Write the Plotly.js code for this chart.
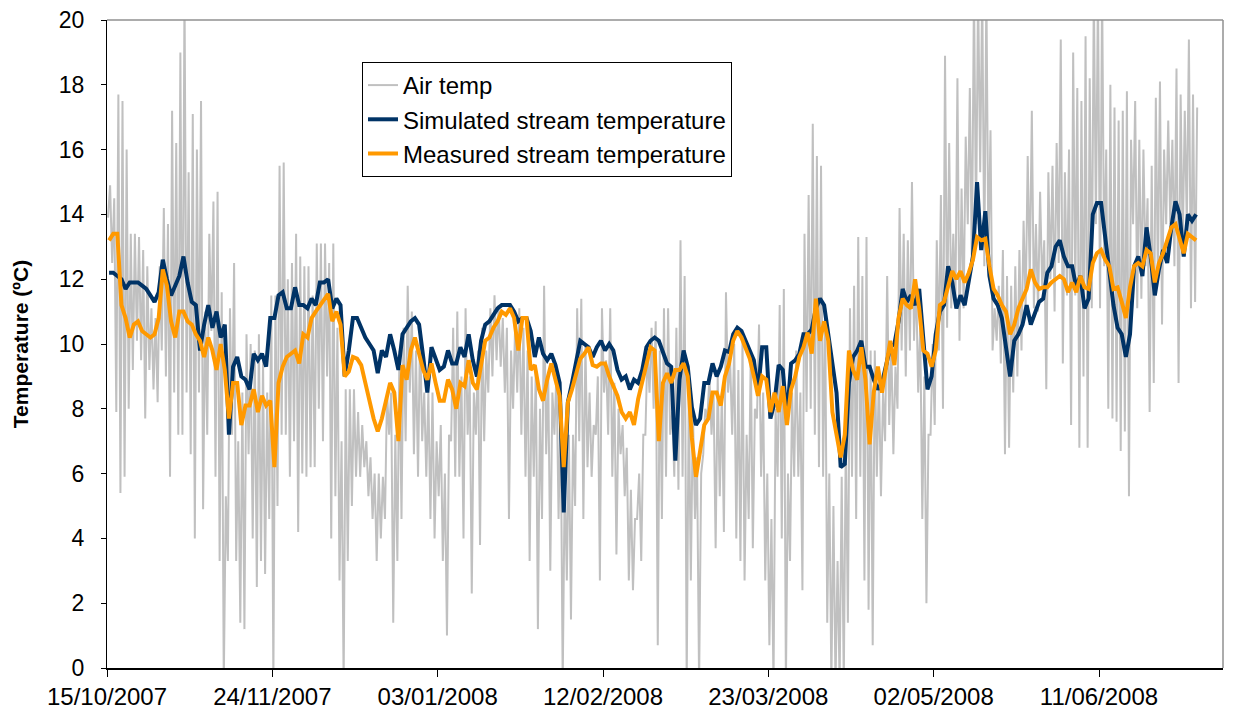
<!DOCTYPE html>
<html><head><meta charset="utf-8">
<script src="https://cdn.plot.ly/plotly-3.0.1.min.js"></script>
<style>html,body{margin:0;padding:0;background:#fff;}#chart{width:1242px;height:718px;}</style>
</head><body><div id="chart"></div>
<script>
// Air temperature: two readings per day (early-morning low, evening high), from 15/10/2007 06:00
const airTemp = [
13.9,14.9, 12.5,14.5, 7.9,17.7, 5.4,17.5, 5.9,16.0, 8.0,13.4, 9.2,13.4, 10.1,13.3, 9.5,12.9, 7.7,12.4,
9.2,11.1, 8.6,10.8, 8.2,12.4, 9.8,14.2, 9.0,13.7, 5.9,17.2, 8.5,16.2, 7.2,19.0, 7.2,21, 8.5,15.3,
6.6,17.1, 4.0,16.0, 8.5,17.5, 4.9,11.0, 7.2,13.4, 10.4,14.4, 5.9,14.7, 3.3,11.6, -0.5,5.3, 3.3,11.1,
7.2,12.5, 3.3,7.0, 1.4,8.5, 1.2,10.3, 6.6,10.0, 4.0,9.8, 2.5,10.3, 3.3,9.5, 2.9,8.5, 4.6,11.5,
-0.5,11.5, 5.0,15.5, 7.2,15.6, 7.2,12.0, 5.9,12.5, 7.0,13.4, 4.2,12.7, 6.0,12.4, 5.9,12.4, 6.2,11.5,
6.2,13.1, 8.0,13.1, 7.0,13.1, 9.0,12.5, 4.0,13.1, 5.3,10.5, 2.7,7.0, -0.5,8.6, 3.3,8.6, 5.0,8.6,
5.9,7.9, 5.9,7.5, 6.2,7.0, 5.3,6.5, 4.6,6.0, 3.3,6.0, 4.0,5.9, 4.6,8.5, 7.2,8.5, 1.4,7.2,
3.3,9.8, 4.6,10.5, 7.0,11.8, 8.5,11.0, 6.6,9.8, 5.9,10.5, 7.0,8.5, 5.9,8.5, 4.6,8.5, 4.0,7.0,
5.3,7.5, 3.3,6.0, 1.0,7.2, 7.0,10.5, 5.9,11.0, 5.9,9.0, 4.0,11.1, 7.2,9.0, 2.3,8.5, 7.2,9.8,
3.8,10.5, 7.0,9.8, 8.5,11.1, 9.0,11.5, 9.5,11.2, 9.3,10.8, 8.5,10.5, 4.6,9.8, 8.0,10.6, 8.5,11.1,
7.2,10.5, 5.9,9.8, 3.3,9.0, 5.9,9.3, 1.2,8.0, 4.6,11.8, 6.6,9.0, 3.0,8.5, 7.2,9.2, 4.6,8.0,
-0.5,6.0, 2.7,7.2, 1.5,7.2, 5.0,11.1, 7.0,11.4, 4.6,10.0, 6.2,8.5, 5.9,7.5, 7.2,9.0, 2.7,11.1,
8.5,9.5, 7.2,11.1, 5.9,8.8, 3.5,8.0, 6.6,7.5, 5.3,6.8, 2.7,5.5, 2.4,4.6, 4.6,6.0, 3.3,7.2,
7.2,9.8, 8.5,10.5, 8.0,10.7, 0.7,9.8, 4.6,11.1, 5.9,11.1, 7.2,7.9, 5.9,10.5, 5.5,13.2, 5.9,12.1,
-0.5,8.5, 2.7,8.0, 4.6,6.5, -0.5,6.0, 6.6,8.0, 7.7,9.0, 7.2,8.5, 3.7,9.0, 5.3,8.5, 4.2,11.6,
8.5,9.5, 7.2,10.0, 4.0,9.2, 3.3,10.2, 2.7,7.2, 4.6,9.8, 3.7,8.0, 7.7,10.6, 5.9,8.5, 2.7,6.0,
0.7,4.6, -0.5,8.0, 5.9,11.2, 4.0,11.7, -0.5,6.0, 3.3,8.5, 5.9,9.8, 5.9,8.5, 2.4,13.4, 7.9,14.6,
8.0,16.8, 7.2,15.8, 6.2,15.5, 5.9,11.1, 1.4,6.0, -0.5,5.0, -0.5,3.3, -0.5,5.9, -0.5,7.2, 1.4,11.1,
5.9,11.8, 4.6,13.3, 5.9,12.1, 2.7,13.3, 1.8,9.8, 0.7,9.8, 5.9,9.0, 5.3,8.5, 7.0,12.1, 7.5,10.0,
6.6,9.3, 8.0,14.2, 9.8,13.4, 9.0,13.2, 9.8,15.0, 10.1,12.0, 8.5,10.5, 4.6,9.0, 2.0,7.2, 7.2,10.0,
7.5,13.2, 9.8,14.6, 8.0,18.9, 10.5,16.2, 11.1,13.4, 11.1,18.2, 10.1,14.8, 11.1,16.4, 13.7,17.9, 12.4,21,
13.7,21, 15.3,21, 12.4,21, 12.7,16.6, 9.8,11.1, 10.1,11.8, 9.4,12.9, 6.6,12.1, 6.8,11.8, 8.5,12.4,
9.0,12.9, 9.8,13.8, 11.1,15.8, 12.0,17.2, 11.1,13.7, 11.0,14.7, 11.8,13.2, 8.6,15.3, 12.0,15.5, 11.0,16.2,
12.5,19.4, 9.4,15.3, 11.5,16.0, 7.5,19.0, 11.5,17.9, 6.8,17.5, 9.0,19.5, 6.8,18.2, 11.1,21, 13.7,21,
11.1,21, 12.4,16.0, 8.0,18.0, 7.7,17.3, 7.6,16.9, 6.7,17.2, 7.3,17.8, 5.3,16.3, 13.7,17.5, 11.1,16.3,
11.4,16.0, 12.4,14.5, 7.9,15.5, 8.8,17.6, 12.0,18.1, 10.6,16.0, 13.7,16.9, 13.7,16.3, 12.4,18.5, 8.8,17.7,
13.0,17.2, 13.7,19.4, 11.1,17.7, 11.3,17.3
];

// Simulated stream temperature: daily values from 15/10/2007 12:00
const simulatedStream = [
12.2,12.2,12.1,12.0,11.7,11.9,11.9,11.9,11.8,11.7,
11.5,11.3,11.6,12.6,12.0,11.5,11.8,12.1,12.7,11.9,
11.3,11.2,9.8,10.6,11.2,10.5,11.0,10.2,10.6,7.2,
9.3,9.6,9.0,8.9,8.6,9.7,9.5,9.7,9.3,10.8,
10.8,11.5,11.6,11.1,11.1,11.75,11.2,11.2,11.1,11.4,
11.2,11.9,11.9,12.0,11.1,11.4,11.2,9.0,9.8,10.8,
10.8,10.5,10.2,10.0,9.8,9.1,9.8,9.6,10.3,9.8,
9.2,10.3,10.5,10.7,10.8,10.6,9.6,8.5,9.9,9.5,
9.2,9.3,9.8,9.4,9.4,9.9,9.6,10.3,9.5,9.0,
10.1,10.6,10.7,10.9,11.1,11.2,11.2,11.2,11.0,10.7,
10.8,10.8,10.4,9.6,10.2,9.7,9.5,9.7,9.35,8.8,
4.8,8.2,8.8,9.5,10.1,10.0,9.9,9.6,9.9,10.1,
9.8,10.0,9.8,9.2,8.9,9.0,8.6,8.9,8.8,9.2,
9.9,10.1,10.2,10.1,9.7,9.4,9.3,6.4,8.9,9.8,
9.3,8.05,7.5,7.7,8.8,8.8,9.4,9.0,9.3,9.8,
9.75,10.3,10.5,10.4,10.1,9.8,9.5,8.5,9.9,9.9,
7.7,8.2,9.35,9.2,7.7,9.4,9.5,9.7,10.3,10.3,
10.45,11.1,11.4,11.2,10.3,9.2,8.5,6.2,6.3,8.8,
9.6,9.8,10.1,9.3,9.3,8.9,8.6,8.8,9.4,9.9,
10.0,10.7,11.7,11.3,11.5,11.2,11.7,10.1,8.6,9.0,
10.3,11.0,11.2,12.4,11.9,11.1,11.5,11.2,11.9,12.7,
15.0,12.9,14.1,12.1,11.4,11.2,10.8,9.9,9.0,10.1,
10.3,10.6,11.2,10.6,11.0,11.3,11.4,12.2,12.4,13.0,
13.2,12.7,12.4,12.4,11.75,12.1,11.1,11.4,14.0,14.35,
14.35,13.3,12.4,11.2,10.5,10.3,9.6,10.3,12.4,12.7,
12.1,13.6,12.7,11.5,12.3,12.9,12.5,13.6,14.4,14.0,
12.7,14.0,13.8,14.0
];

// Measured stream temperature: daily values from 15/10/2007 12:00
const measuredStream = [
13.2,13.4,13.4,11.2,10.8,10.2,10.6,10.7,10.4,10.3,
10.2,10.3,10.8,12.3,11.8,10.7,10.2,11.0,11.0,10.7,
10.6,10.3,10.1,9.6,10.2,9.8,9.2,10.0,9.2,7.7,
8.8,8.8,7.5,8.1,8.1,8.6,7.9,8.4,8.1,8.25,
6.2,8.8,9.3,9.6,9.7,9.8,9.4,10.3,10.2,10.8,
11.0,11.2,11.4,11.55,10.7,11.0,10.6,9.0,9.15,9.6,
9.55,9.35,8.8,8.25,7.7,7.3,7.7,8.25,8.8,8.5,
7.0,9.35,8.9,9.8,10.2,9.7,9.2,8.9,9.4,8.8,
8.25,8.25,8.9,8.6,8.0,8.8,8.7,9.5,8.8,8.6,
9.4,10.1,10.2,10.5,10.7,11.0,10.9,11.1,10.8,9.8,
10.8,10.8,9.2,9.35,8.6,8.25,8.9,9.4,8.9,8.4,
6.2,8.2,8.6,9.1,9.55,9.7,9.9,9.35,9.3,9.4,
9.4,9.0,8.7,8.4,7.9,7.7,7.9,7.5,8.3,8.8,
9.4,9.9,9.8,7.0,8.8,9.1,8.8,9.2,9.2,9.4,
9.0,7.1,5.9,6.7,7.5,7.7,8.5,8.5,8.1,9.0,
9.4,10.1,10.4,10.2,9.9,9.55,9.0,8.4,9.0,8.9,
7.9,8.5,7.9,8.7,7.5,8.6,9.0,9.6,9.9,10.35,
9.7,11.4,10.1,10.7,10.1,7.9,7.2,6.5,7.2,9.8,
9.2,8.9,9.9,8.9,6.9,8.5,9.3,8.5,9.3,10.1,
9.35,10.8,11.4,11.2,11.1,12.0,11.1,9.8,9.7,9.3,
9.8,11.2,11.3,11.75,12.25,12.0,12.25,11.9,12.2,12.6,
13.3,13.2,13.25,12.4,11.7,11.5,11.2,11.0,10.3,10.6,
11.1,11.4,11.7,12.3,11.9,11.7,11.75,11.75,11.9,12.0,
12.1,12.0,11.6,11.9,11.6,12.1,11.75,11.7,12.5,12.8,
12.9,12.6,12.4,11.7,11.75,11.3,10.8,11.75,12.4,12.5,
12.4,12.9,12.8,11.9,12.5,12.8,13.2,13.6,13.7,13.3,
12.8,13.4,13.3,13.2
];

const tickDates = ['2007-10-15','2007-11-24','2008-01-03','2008-02-12','2008-03-23','2008-05-02','2008-06-11'];
const tickLabels = ['15/10/2007','24/11/2007','03/01/2008','12/02/2008','23/03/2008','02/05/2008','11/06/2008'];
const seriesNames = ['Air temp','Simulated stream temperature','Measured stream temperature'];

const airStart = Date.UTC(2007, 9, 15, 6, 0, 0);
const airStepHours = 12;
const streamStart = Date.UTC(2007, 9, 15, 12, 0, 0);
const streamStepHours = 24;

function timeStamps(start, stepHours, n) {
  const out = [];
  for (let i = 0; i < n; i++) {
    out.push(new Date(start + i * stepHours * 3600000).toISOString().slice(0, 19).replace('T', ' '));
  }
  return out;
}

const FONT = 'Liberation Sans, Arial, Helvetica, sans-serif';

const traces = [
  {x: timeStamps(airStart, airStepHours, airTemp.length), y: airTemp, name: seriesNames[0],
   type: 'scatter', mode: 'lines', line: {color: '#C0C0C0', width: 2}},
  {x: timeStamps(streamStart, streamStepHours, simulatedStream.length), y: simulatedStream, name: seriesNames[1],
   type: 'scatter', mode: 'lines', line: {color: '#003366', width: 4}},
  {x: timeStamps(streamStart, streamStepHours, measuredStream.length), y: measuredStream, name: seriesNames[2],
   type: 'scatter', mode: 'lines', line: {color: '#FF9900', width: 4}}
];

const layout = {
  width: 1242, height: 718,
  margin: {l: 107, r: 19, t: 20, b: 50},
  paper_bgcolor: '#ffffff', plot_bgcolor: '#ffffff',
  font: {family: FONT, size: 23, color: '#000'},
  showlegend: true,
  legend: {x: 0.2285, y: 0.9352, xanchor: 'left', yanchor: 'top', bgcolor: '#ffffff',
           bordercolor: '#000', borderwidth: 1, font: {family: FONT, size: 24, color: '#000'},
           traceorder: 'normal'},
  xaxis: {type: 'date', range: ['2007-10-15', '2008-07-11'], tickvals: tickDates, ticktext: tickLabels,
          ticks: 'outside', ticklen: 7, tickcolor: '#000', showgrid: false, zeroline: false,
          showline: true, linecolor: '#000', linewidth: 1.5, tickfont: {family: FONT, size: 24, color: '#000'}},
  yaxis: {range: [0, 20], dtick: 2, tick0: 0, ticks: 'outside', ticklen: 5, tickcolor: '#000',
          ticksuffix: '\u2002',
          showgrid: false, zeroline: false, showline: true, linecolor: '#000', linewidth: 1.5,
          tickfont: {family: FONT, size: 23, color: '#000'},
          title: {text: 'Temperature (ºC)', font: {family: FONT, size: 21, color: '#000', weight: 'bold'}, standoff: 24}},
  shapes: [
    {type: 'line', xref: 'paper', yref: 'paper', x0: 0, x1: 1, y0: 1, y1: 1, line: {color: '#909090', width: 1.5}},
    {type: 'line', xref: 'paper', yref: 'paper', x0: 1, x1: 1, y0: 0, y1: 1, line: {color: '#909090', width: 1.5}}
  ],
  hovermode: false
};

Plotly.newPlot('chart', traces, layout, {displayModeBar: false, staticPlot: true});
</script>
</body></html>
